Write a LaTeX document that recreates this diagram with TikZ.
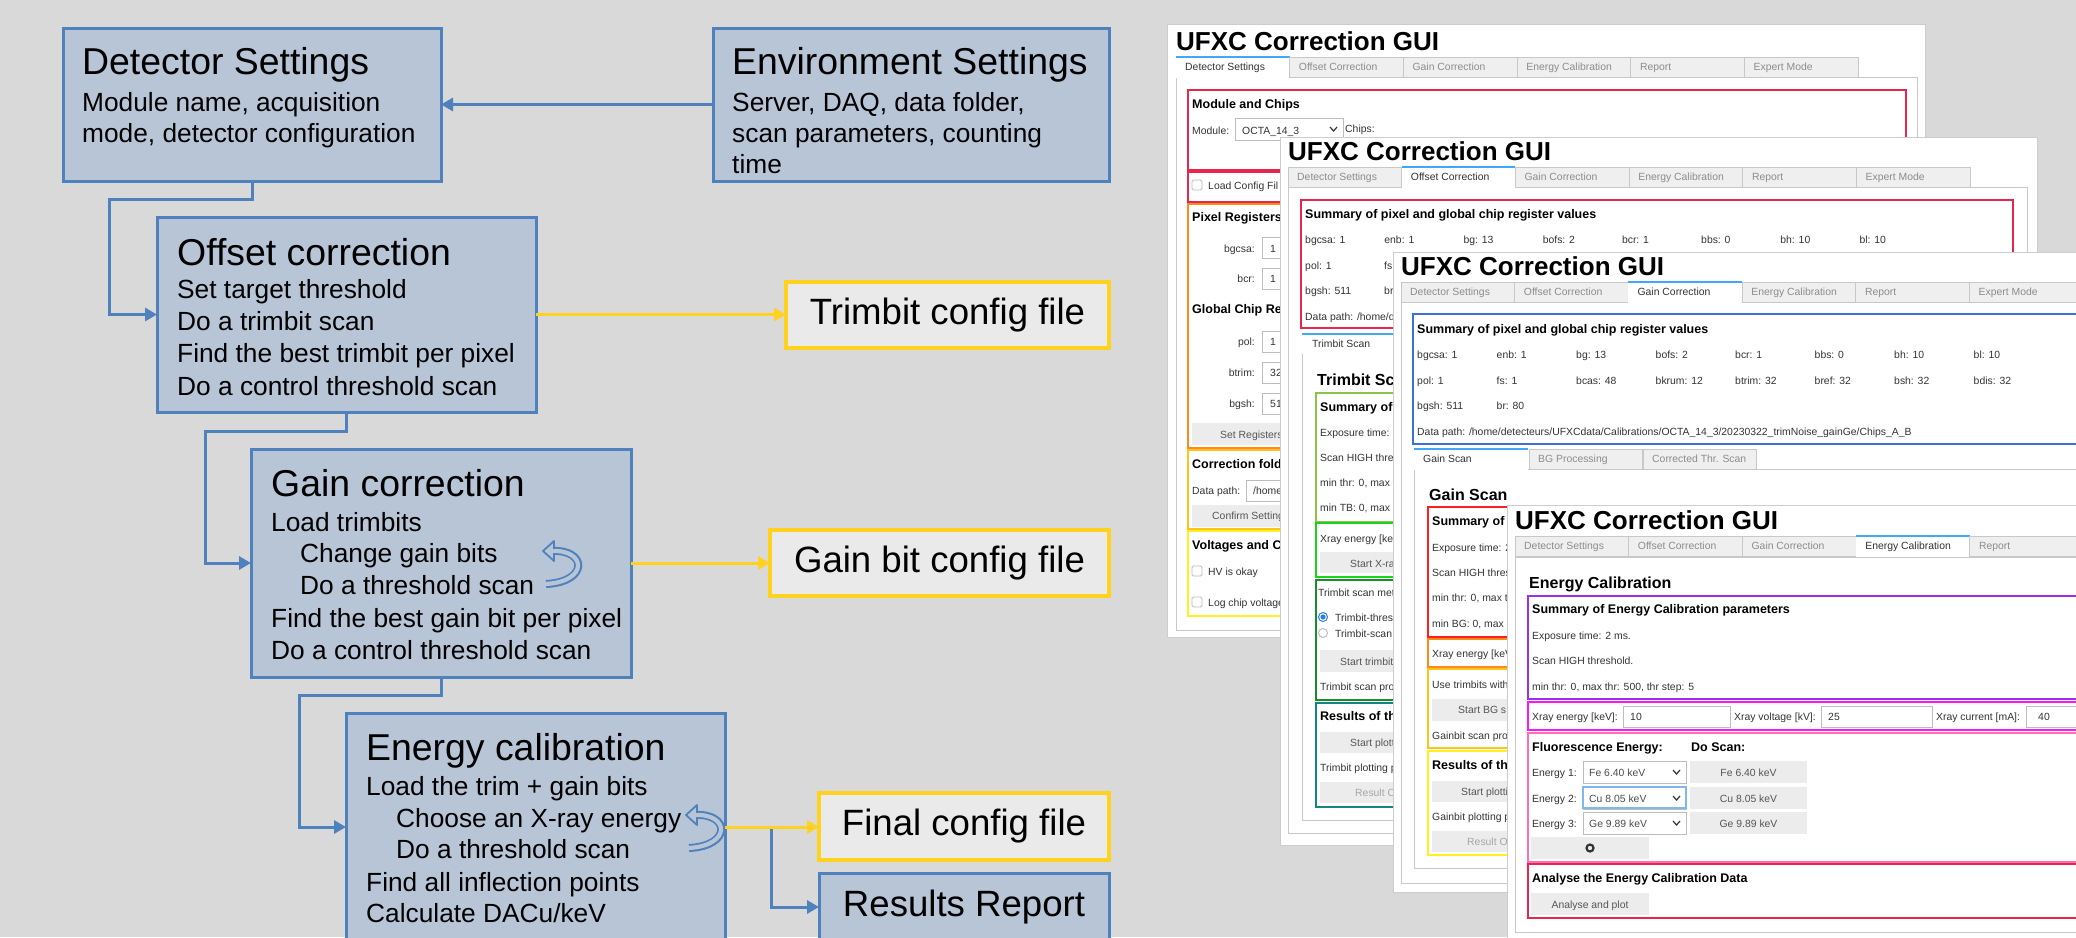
\documentclass[tikz,border=0pt]{standalone}
\usepackage{fontspec}
\setmainfont{Liberation Sans}
\usetikzlibrary{arrows.meta}
\definecolor{bgc}{HTML}{D9D9D9}
\definecolor{boxfill}{HTML}{B7C5D7}
\definecolor{boxblue}{HTML}{4F81BD}
\definecolor{ylw}{HTML}{FFD21F}
\definecolor{cfgfill}{HTML}{EAEAEA}
\definecolor{tabbg}{HTML}{EFEFEF}
\definecolor{tabline}{HTML}{C8C8C8}
\definecolor{tabact}{HTML}{3FA9F5}
\definecolor{tabgrey}{HTML}{8C8C8C}
\definecolor{txt}{HTML}{333333}
\definecolor{btn}{HTML}{ECECEC}
\definecolor{btntxt}{HTML}{555555}
\definecolor{crimsonc}{HTML}{E8264D}
\definecolor{orngc}{HTML}{FF8A1C}
\definecolor{goldc}{HTML}{FFC21A}
\definecolor{yelc}{HTML}{FFF01F}
\definecolor{lgreenc}{HTML}{8BC34A}
\definecolor{bgreenc}{HTML}{1FD11F}
\definecolor{dgreenc}{HTML}{1B8C2C}
\definecolor{tealc}{HTML}{14857F}
\definecolor{gbluec}{HTML}{3D6FDB}
\definecolor{redc}{HTML}{FF1F1F}
\definecolor{purpc}{HTML}{9B30E6}
\definecolor{magenc}{HTML}{FF14FF}
\definecolor{pinkc}{HTML}{FF6FAE}
\definecolor{inbord}{HTML}{BDBDBD}
\definecolor{focusc}{HTML}{7DB8F0}
\definecolor{radioc}{HTML}{2B7DE9}
\definecolor{winline}{HTML}{CDCDCD}
\newcommand\fTitle{\fontsize{37.4}{41}\selectfont}
\newcommand\fCfg{\fontsize{36.6}{40}\selectfont}
\newcommand\fBody{\fontsize{26.3}{30}\selectfont}
\newcommand\gTitle{\bfseries\fontsize{26}{30}\selectfont}
\newcommand\gHead{\bfseries\fontsize{12.5}{15}\selectfont}
\newcommand\gSub{\bfseries\fontsize{16}{19}\selectfont}
\newcommand\gBody{\fontsize{10.4}{12}\selectfont}
\tikzset{
  flowbox/.style={draw=boxblue, fill=boxfill, line width=3pt, anchor=north west, inner sep=0pt, outer sep=0pt},
  cfgbox/.style={draw=ylw, fill=cfgfill, line width=3.5pt, anchor=north west, inner sep=0pt, outer sep=0pt, font=\fCfg},
  ft/.style={anchor=base west, inner sep=0pt, font=\fTitle},
  fb/.style={anchor=base west, inner sep=0pt, font=\fBody},
  bconn/.style={draw=boxblue, line width=3pt, -{Triangle[length=12pt,width=13pt]}},
  yconn/.style={draw=ylw, line width=3pt, -{Triangle[length=12pt,width=13pt]}},
  win/.style={fill=white, draw=winline, line width=0.8pt},
  gt/.style={anchor=base west, inner sep=0pt, font=\gTitle, text=black},
  gh/.style={anchor=base west, inner sep=0pt, font=\gHead, text=black},
  gs/.style={anchor=base west, inner sep=0pt, font=\gSub, text=black},
  gb/.style={anchor=base west, inner sep=0pt, font=\gBody, text=txt},
  gbe/.style={anchor=base east, inner sep=0pt, font=\gBody, text=txt},
  btnt/.style={anchor=base west, inner sep=0pt, font=\gBody, text=btntxt},
  btnc/.style={anchor=base, inner sep=0pt, font=\gBody, text=btntxt},
  sect/.style={line width=2.5pt},
  inp/.style={draw=inbord, fill=white, line width=0.8pt},
  panel/.style={draw=tabline, line width=0.8pt},
  tabtxton/.style={anchor=base west, inner sep=0pt, font=\gBody, text=txt},
  tabtxtoff/.style={anchor=base west, inner sep=0pt, font=\gBody, text=tabgrey},
}
\newcommand\tabrow[5]{%
  \foreach \lbl [count=\i from 0] in {Detector Settings,Offset Correction,Gain Correction,Energy Calibration,Report,Expert Mode}{%
    \ifnum\i<#4\relax
      \pgfmathsetmacro\tx{#1+\i*113.7}%
      \ifnum\i=#3\relax
        \fill[white] (\tx,#2) rectangle ++(113.7,20.6);
        \draw[tabact, line width=2pt] (\tx,#2) -- ++(113.7,0);
        \node[tabtxton] (#5tab\i) at (\tx+9,#2+13) {\lbl};
      \else
        \draw[tabline, fill=tabbg, line width=0.8pt] (\tx,#2) rectangle ++(113.7,20);
        \node[tabtxtoff] (#5tab\i) at (\tx+9,#2+13) {\lbl};
      \fi
    \fi
  }}
\newcommand\cycleicon[2]{%
  \begin{scope}[shift={(#1,#2)}]
    \draw[boxblue, line width=8pt] (9,11) .. controls (44,9) and (46,42) .. (3,44);
    \draw[boxfill, line width=4.2pt] (8,11) .. controls (44,9) and (46,42) .. (2,44);
    \filldraw[fill=boxfill, draw=boxblue, line width=1.8pt, line join=round] (0,11) -- (11,1) -- (11,21) -- cycle;
    \fill[boxfill] (9.5,8.6) rectangle (13,13.4);
  \end{scope}}
\newcommand\chev[2]{\draw[txt, line width=1.2pt] (#1,#2) -- ++(3.5,4) -- ++(3.5,-4);}
\begin{document}
\begin{tikzpicture}[x=1pt, y=-1pt]
\useasboundingbox (0,0) rectangle (2076,937);
\fill[bgc] (0,0) rectangle (2076,937);
\clip (0,0) rectangle (2076,937);

% ================= flowchart =================
\node[flowbox, minimum width=378pt, minimum height=153pt] (det) at (63,28) {};
\node[flowbox, minimum width=396pt, minimum height=153pt] (env) at (713,28) {};
\node[flowbox, minimum width=379pt, minimum height=195pt] (off) at (157,217) {};
\node[flowbox, minimum width=380pt, minimum height=228pt] (gain) at (251,449) {};
\node[flowbox, minimum width=379pt, minimum height=240pt] (ecal) at (346,713) {};
\node[cfgbox, minimum width=323pt, minimum height=66pt] (trim) at (786,282) {Trimbit config file};
\node[cfgbox, minimum width=339pt, minimum height=66pt] (gbit) at (770,530) {Gain bit config file};
\node[cfgbox, minimum width=290pt, minimum height=67pt] (fin) at (819,793) {Final config file};
\node[flowbox, minimum width=290pt, minimum height=68pt, font=\fCfg] (rep) at (819,873) {Results Report};

\node[ft] (dt0) at (82,74) {Detector Settings};
\node[fb] (dt1) at (82,111) {Module name, acquisition};
\node[fb] (dt2) at (82,142) {mode, detector configuration};

\node[ft] (et0) at (732,74) {Environment Settings};
\node[fb] (et1) at (732,111) {Server, DAQ, data folder,};
\node[fb] (et2) at (732,142) {scan parameters, counting};
\node[fb] (et3) at (732,173) {time};

\node[ft] (ot0) at (177,265) {Offset correction};
\node[fb] (ot1) at (177,298) {Set target threshold};
\node[fb] (ot2) at (177,330) {Do a trimbit scan};
\node[fb] (ot3) at (177,362) {Find the best trimbit per pixel};
\node[fb] (ot4) at (177,395) {Do a control threshold scan};

\node[ft] (gc0) at (271,496) {Gain correction};
\node[fb] (gc1) at (271,531) {Load trimbits};
\node[fb] (gc2) at (300,562) {Change gain bits};
\node[fb] (gc3) at (300,594) {Do a threshold scan};
\node[fb] (gc4) at (271,627) {Find the best gain bit per pixel};
\node[fb] (gc5) at (271,659) {Do a control threshold scan};

\node[ft] (ec0) at (366,760) {Energy calibration};
\node[fb] (ec1) at (366,795) {Load the trim + gain bits};
\node[fb] (ec2) at (396,827) {Choose an X-ray energy};
\node[fb] (ec3) at (396,858) {Do a threshold scan};
\node[fb] (ec4) at (366,891) {Find all inflection points};
\node[fb] (ec5) at (366,922) {Calculate DACu/keV};

\cycleicon{543}{540}
\cycleicon{686}{804}

\draw[bconn] (env.west) -- (det.east);
\draw[bconn] (det.south) -- ++(0,18) -| ([xshift=-48pt]off.west) -- (off.west);
\draw[bconn] (off.south) -- ++(0,19) -| ([xshift=-46pt]gain.west) -- (gain.west);
\draw[bconn] (gain.south) -- ++(0,18) -| ([xshift=-47pt,yshift=6pt]ecal.west) -- ([yshift=6pt]ecal.west);
\path ([yshift=6pt]ecal.east) ++(46,0) coordinate (br);
\draw[bconn] (br) |- (rep.west);
\draw[yconn] (off.east) -- (off.east -| trim.west);
\draw[yconn] (gain.east) -- (gbit.west);
\draw[yconn] ([yshift=6pt]ecal.east) -- ([yshift=6pt]ecal.east -| fin.west);

% ================= window 1 =================
\draw[win] (1167,24) rectangle (1925,637);
\node[gt] (w1title) at (1176,50) {UFXC Correction GUI};
\draw[panel] (1176,77) rectangle (1917,630);
\tabrow{1176}{57}{0}{6}{w1}
\draw[crimsonc, sect] (1188,90) rectangle (1906,170);
\node[gh] (w1mc) at (1192,108) {Module and Chips};
\node[gb] (w1mod) at (1192,134) {Module:};
\draw[inp] (1235,118) rectangle (1343,140);
\node[gb] (w1oct) at (1242,134) {OCTA\_14\_3};
\chev{1330}{127}
\node[gb] (w1chips) at (1345,132) {Chips:};
\draw[crimsonc, sect] (1188,172) rectangle (1906,202);
\draw[inp, rounded corners=1.5pt] (1192,180) rectangle (1202,190);
\node[gb] (w1load) at (1208,189) {Load Config Fil};
\draw[orngc, sect] (1188,204) rectangle (1906,448);
\node[gh] (w1pr) at (1192,221) {Pixel Registers};
\node[gbe] (w1l1) at (1255,252) {bgcsa:};
\draw[inp] (1262,237) rectangle (1310,258);
\node[gb] (w1v1) at (1270,252) {1};
\node[gbe] (w1l2) at (1255,282) {bcr:};
\draw[inp] (1262,268) rectangle (1310,289);
\node[gb] (w1v2) at (1270,282) {1};
\node[gh] (w1gc) at (1192,313) {Global Chip Re};
\node[gbe] (w1l3) at (1255,345) {pol:};
\draw[inp] (1262,331) rectangle (1310,352);
\node[gb] (w1v3) at (1270,345) {1};
\node[gbe] (w1l4) at (1255,376) {btrim:};
\draw[inp] (1262,362) rectangle (1310,383);
\node[gb] (w1v4) at (1270,376) {32};
\node[gbe] (w1l5) at (1255,407) {bgsh:};
\draw[inp] (1262,393) rectangle (1310,414);
\node[gb] (w1v5) at (1270,407) {51};
\fill[btn] (1192,423) rectangle (1310,445);
\node[btnt] (w1set) at (1220,438) {Set Registers};
\draw[goldc, sect] (1188,450) rectangle (1906,529);
\node[gh] (w1cf) at (1192,468) {Correction fold};
\node[gb] (w1dp) at (1192,494) {Data path:};
\draw[inp] (1246,480) rectangle (1310,501);
\node[gb] (w1home) at (1253,494) {/home};
\fill[btn] (1192,505) rectangle (1310,527);
\node[btnt] (w1conf) at (1212,519) {Confirm Setting};
\draw[yelc, sect] (1188,531) rectangle (1906,616);
\node[gh] (w1volt) at (1192,549) {Voltages and C};
\draw[inp, rounded corners=1.5pt] (1192,566) rectangle (1202,576);
\node[gb] (w1hv) at (1208,575) {HV is okay};
\draw[inp, rounded corners=1.5pt] (1192,597) rectangle (1202,607);
\node[gb] (w1log) at (1208,606) {Log chip voltage};

% ================= window 2 =================
\draw[win] (1280,137) rectangle (2037,845);
\node[gt] (w2title) at (1288,160) {UFXC Correction GUI};
\draw[panel] (1288,187) rectangle (2027,833);
\tabrow{1288}{167}{1}{6}{w2}
\draw[crimsonc, sect] (1301,200) rectangle (2013,328);
\node[gh] (w2sum) at (1305,218) {Summary of pixel and global chip register values};
\foreach \t [count=\i from 0] in {bgcsa: 1,enb: 1,bg: 13,bofs: 2,bcr: 1,bbs: 0,bh: 10,bl: 10}
  \node[gb] (w2r\i) at (1305+\i*79.2,243) {\t};
\node[gb] (w2pol) at (1305,269) {pol: 1};
\node[gb] (w2fs) at (1384,269) {fs};
\node[gb] (w2bgsh) at (1305,294) {bgsh: 511};
\node[gb] (w2br) at (1384,294) {br};
\node[gb] (w2dp) at (1305,320) {Data path: /home/d};
\draw[panel] (1302,354) -- (1302,820) -- (1400,820);
\draw[panel] (1415,354) -- (1400,354);
\draw[tabact, line width=2pt] (1302,334) -- (1415,334);
\node[tabtxton] (w2ts) at (1312,347) {Trimbit Scan};
\node[gs] (w2tsc) at (1317,385) {Trimbit Sc};
\draw[lgreenc, sect] (1316,393) rectangle (1420,522);
\node[gh] (w2s1) at (1320,411) {Summary of};
\node[gb] (w2s2) at (1320,436) {Exposure time: 2};
\node[gb] (w2s3) at (1320,461) {Scan HIGH thres};
\node[gb] (w2s4) at (1320,486) {min thr: 0, max t};
\node[gb] (w2s5) at (1320,511) {min TB: 0, max T};
\draw[bgreenc, sect] (1316,523) rectangle (1420,577);
\node[gb] (w2x1) at (1320,542) {Xray energy [keV};
\fill[btn] (1320,552) rectangle (1420,573);
\node[btnt] (w2x2) at (1350,567) {Start X-ra};
\draw[dgreenc, sect] (1316,580) rectangle (1420,700);
\node[gb] (w2m1) at (1318,596) {Trimbit scan met};
\filldraw[fill=white, draw=radioc, line width=1pt] (1323,617) circle (4.5);
\fill[radioc] (1323,617) circle (2.6);
\node[gb] (w2m2) at (1335,621) {Trimbit-thres};
\draw[inbord, line width=1pt] (1323,633) circle (4.5);
\node[gb] (w2m3) at (1335,637) {Trimbit-scan};
\fill[btn] (1320,650) rectangle (1420,672);
\node[btnt] (w2m4) at (1340,665) {Start trimbit};
\node[gb] (w2m5) at (1320,690) {Trimbit scan pro};
\draw[tealc, sect] (1316,703) rectangle (1420,807);
\node[gh] (w2p1) at (1320,720) {Results of th};
\fill[btn] (1320,732) rectangle (1420,753);
\node[btnt] (w2p2) at (1350,746) {Start plott};
\node[gb] (w2p3) at (1320,771) {Trimbit plotting p};
\fill[btn] (1320,782) rectangle (1420,803);
\node[btnt, text=black!35] (w2p4) at (1355,796) {Result O};

% ================= window 3 =================
\draw[win] (1393,252) rectangle (2100,892);
\node[gt] (w3title) at (1401,275) {UFXC Correction GUI};
\draw[panel] (1401,302) rectangle (2095,883);
\tabrow{1401}{282}{2}{6}{w3}
\draw[gbluec, sect] (1413,314) rectangle (2095,444);
\node[gh] (w3sum) at (1417,333) {Summary of pixel and global chip register values};
\foreach \t [count=\i from 0] in {bgcsa: 1,enb: 1,bg: 13,bofs: 2,bcr: 1,bbs: 0,bh: 10,bl: 10}
  \node[gb] (w3a\i) at (1417+\i*79.5,358) {\t};
\foreach \t [count=\i from 0] in {pol: 1,fs: 1,bcas: 48,bkrum: 12,btrim: 32,bref: 32,bsh: 32,bdis: 32}
  \node[gb] (w3b\i) at (1417+\i*79.5,384) {\t};
\node[gb] (w3c0) at (1417,409) {bgsh: 511};
\node[gb] (w3c1) at (1496.5,409) {br: 80};
\node[gb] (w3dp) at (1417,435) {Data path: /home/detecteurs/UFXCdata/Calibrations/OCTA\_14\_3/20230322\_trimNoise\_gainGe/Chips\_A\_B};
\draw[panel] (1414,469) -- (2095,469);
\draw[panel] (1414,469) -- (1414,868) -- (2095,868);
\fill[white] (1414,449) rectangle (1528,470);
\draw[tabact, line width=2pt] (1414,449) -- (1528,449);
\node[tabtxton] (w3st0) at (1423,462) {Gain Scan};
\draw[tabline, fill=tabbg, line width=0.8pt] (1529,449) rectangle (1642,469);
\node[tabtxtoff] (w3st1) at (1538,462) {BG Processing};
\draw[tabline, fill=tabbg, line width=0.8pt] (1643,449) rectangle (1756,469);
\node[tabtxtoff] (w3st2) at (1652,462) {Corrected Thr. Scan};
\node[gs] (w3gs) at (1429,500) {Gain Scan};
\draw[redc, sect] (1428,507) rectangle (1530,637);
\node[gh] (w3s1) at (1432,525) {Summary of};
\node[gb] (w3s2) at (1432,551) {Exposure time: 2};
\node[gb] (w3s3) at (1432,576) {Scan HIGH thres};
\node[gb] (w3s4) at (1432,601) {min thr: 0, max th};
\node[gb] (w3s5) at (1432,627) {min BG: 0, max l};
\draw[orngc, sect] (1428,639) rectangle (1530,667);
\node[gb] (w3x1) at (1432,657) {Xray energy [keV};
\draw[goldc, sect] (1428,669) rectangle (1530,748);
\node[gb] (w3u1) at (1432,688) {Use trimbits with};
\fill[btn] (1432,699) rectangle (1530,721);
\node[btnt] (w3u2) at (1458,713) {Start BG s};
\node[gb] (w3u3) at (1432,739) {Gainbit scan pro};
\draw[yelc, sect] (1428,751) rectangle (1530,855);
\node[gh] (w3p1) at (1432,769) {Results of th};
\fill[btn] (1432,781) rectangle (1530,802);
\node[btnt] (w3p2) at (1461,795) {Start plotti};
\node[gb] (w3p3) at (1432,820) {Gainbit plotting p};
\fill[btn] (1432,831) rectangle (1530,852);
\node[btnt, text=black!35] (w3p4) at (1467,845) {Result O};

% ================= window 4 =================
\draw[win] (1507,505) rectangle (2100,950);
\node[gt] (w4title) at (1515,529) {UFXC Correction GUI};
\draw[panel] (1515,557) rectangle (2095,932);
\tabrow{1515}{536}{3}{5}{w4}
\node[gs] (w4ec) at (1529,588) {Energy Calibration};
\draw[purpc, sect] (1528,596) rectangle (2095,699);
\node[gh] (w4sum) at (1532,613) {Summary of Energy Calibration parameters};
\node[gb] (w4s1) at (1532,639) {Exposure time: 2 ms.};
\node[gb] (w4s2) at (1532,664) {Scan HIGH threshold.};
\node[gb] (w4s3) at (1532,690) {min thr: 0, max thr: 500, thr step: 5};
\draw[magenc, sect] (1528,702) rectangle (2095,730);
\node[gb] (w4x1) at (1532,720) {Xray energy [keV]:};
\draw[inp] (1623,706) rectangle (1730,727);
\node[gb] (w4x2) at (1630,720) {10};
\node[gb] (w4x3) at (1734,720) {Xray voltage [kV]:};
\draw[inp] (1821,706) rectangle (1932,727);
\node[gb] (w4x4) at (1828,720) {25};
\node[gb] (w4x5) at (1936,720) {Xray current [mA]:};
\draw[inp] (2026,706) rectangle (2100,727);
\node[gb] (w4x6) at (2038,720) {40};
\draw[pinkc, sect] (1528,733) rectangle (2095,862);
\node[gh] (w4fe) at (1532,751) {Fluorescence Energy:};
\node[gh] (w4ds) at (1691,751) {Do Scan:};
\foreach \lab/\el/\yy in {1/Fe 6.40 keV/761,2/Cu 8.05 keV/787,3/Ge 9.89 keV/812}{
  \node[gb] (w4e\lab) at (1532,\yy+15) {Energy \lab:};
  \draw[inp] (1583,\yy) rectangle (1686,\yy+22);
  \node[gb, text=black!70] (w4v\lab) at (1589,\yy+15) {\el};
  \chev{1673}{\yy+9}
  \fill[btn] (1690,\yy) rectangle (1807,\yy+22);
  \node[btnc] (w4b\lab) at (1748.5,\yy+15) {\el};
}
\draw[focusc, line width=1.3pt] (1583,787) rectangle (1686,808);
\fill[btn] (1531,837) rectangle (1649,859);
\draw[txt, line width=2.2pt] (1590,848) circle (3.5);
\draw[crimsonc, sect] (1528,864) rectangle (2095,918);
\node[gh] (w4an) at (1532,882) {Analyse the Energy Calibration Data};
\fill[btn] (1531,893) rectangle (1649,915);
\node[btnc] (w4ap) at (1590,908) {Analyse and plot};
\end{tikzpicture}
\end{document}
